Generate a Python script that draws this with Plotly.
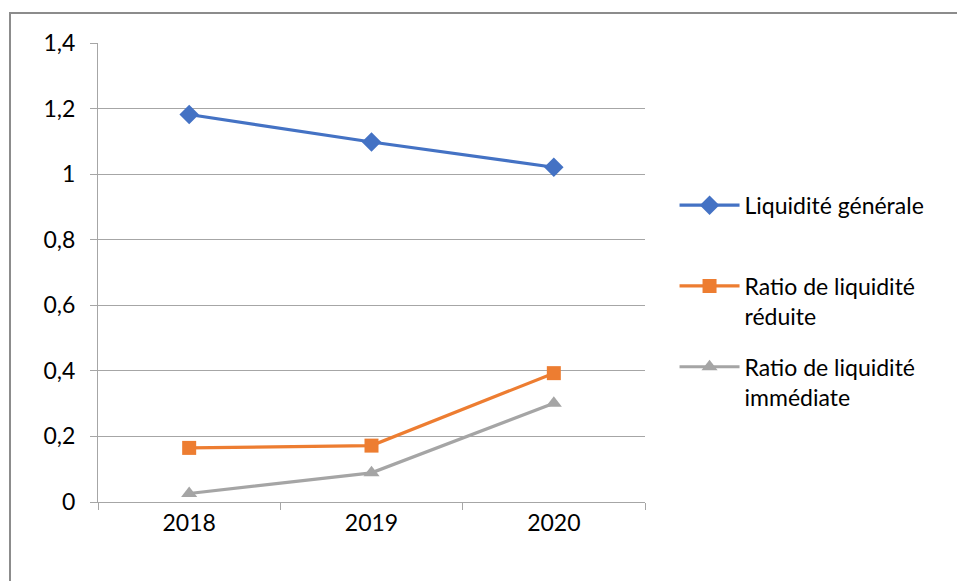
import plotly.graph_objects as go

years = ["2018", "2019", "2020"]
liquidite_generale = [1.182, 1.098, 1.021]
liquidite_reduite = [0.165, 0.172, 0.393]
liquidite_immediate = [0.026, 0.089, 0.301]

# second line kept blank on the first entry so all legend entries share the same height
series_names = [
    "Liquidité générale<br> ",
    "Ratio de liquidité<br>réduite",
    "Ratio de liquidité<br>immédiate",
]
series_values = [liquidite_generale, liquidite_reduite, liquidite_immediate]
series_colors = ["#4472C4", "#ED7D31", "#A5A5A5"]
series_symbols = ["diamond", "square", "triangle-up"]
marker_sizes = [15, 14, 14]

font_family = "Lato, 'Open Sans', sans-serif"

fig = go.Figure()
for name, vals, color, sym, ms in zip(series_names, series_values, series_colors,
                                      series_symbols, marker_sizes):
    fig.add_trace(go.Scatter(
        x=years, y=vals, name=name, mode="lines+markers",
        line=dict(color=color, width=3.2),
        marker=dict(symbol=sym, size=ms, color=color),
        legendgroup=name,
    ))

fig.update_layout(
    width=957, height=581,
    margin=dict(l=98, r=312, t=43, b=79),
    paper_bgcolor="white", plot_bgcolor="white",
    separators=", ",
    font=dict(family=font_family, size=22, color="#000000"),
    showlegend=True,
    legend=dict(
        x=1.054, y=0.6935, xanchor="left", yanchor="top",
        traceorder="grouped", tracegroupgap=18, valign="top",
        itemwidth=60,
        font=dict(family=font_family, size=23, color="#000000"),
        bgcolor="rgba(0,0,0,0)",
    ),
    xaxis=dict(
        showgrid=False, showline=True, linecolor="#a6a6a6", linewidth=1,
        ticks="outside", ticklen=7, tickcolor="#a6a6a6",
        tickson="boundaries", zeroline=False,
        tickfont=dict(size=23), range=[-0.5, 2.5],
    ),
    yaxis=dict(
        range=[0, 1.4], dtick=0.2, tick0=0,
        showgrid=True, gridcolor="#a6a6a6", gridwidth=1,
        showline=True, linecolor="#a6a6a6", linewidth=1,
        ticks="outside", ticklen=7, tickcolor="#a6a6a6",
        zeroline=False, tickfont=dict(size=23), ticklabelstandoff=10,
    ),
    shapes=[
        dict(type="rect", xref="paper", yref="paper",
             x0=-88 / 547, x1=1.8, y0=-0.3, y1=1 + 30 / 459,
             line=dict(color="#8c8c8c", width=2), fillcolor="rgba(0,0,0,0)",
             layer="below"),
    ],
)

fig.write_html("out.html")
